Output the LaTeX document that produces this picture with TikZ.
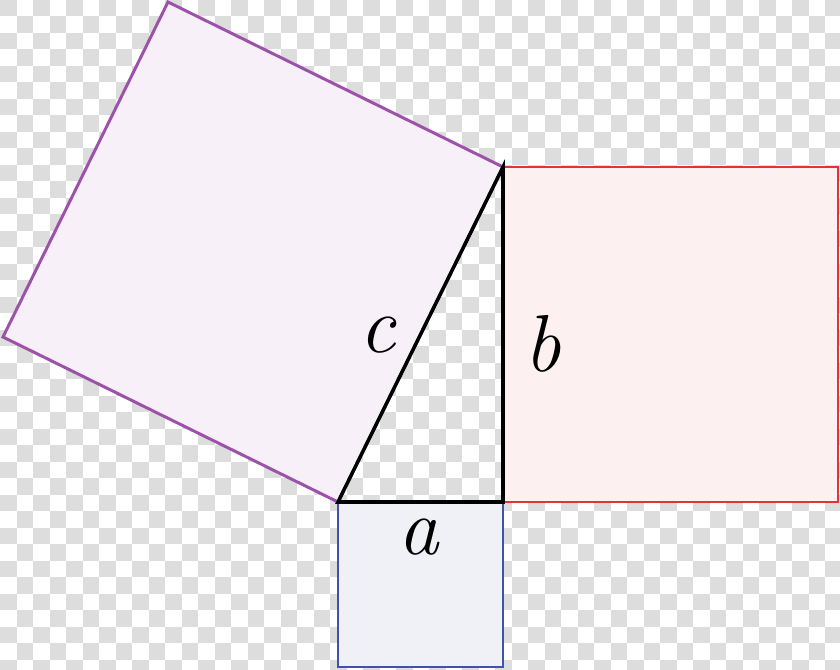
\documentclass[tikz,border=0pt]{standalone}
\usepackage{tikz}
\usepackage{amsmath}
\usetikzlibrary{calc}
\usepackage{color}
\definecolor{Check-1}{RGB}{221,221,221}
\definecolor{Sq-a}{RGB}{62,84,172}
\definecolor{Sq-a-fill}{RGB}{240,241,247}
\definecolor{Sq-b}{RGB}{226,52,52}
\definecolor{Sq-b-fill}{RGB}{253,240,240}
\definecolor{Sq-c}{RGB}{157,82,170}
\definecolor{Sq-c-fill}{RGB}{248,240,248}

\begin{document}
\begin{tikzpicture}[x=0.02cm, y=0.02cm]
      \useasboundingbox (0,0) rectangle (840,670);
      \clip (0,0) rectangle (840,670);

      % transparency checkerboard
      \foreach \r in {0,...,40} {
        \foreach \c in {0,...,50} {
          \pgfmathparse{int(mod(\r+\c,2))}
          \ifnum\pgfmathresult=0
            \fill[Check-1] ({\c*16.5}, {670-(\r+1)*16.5}) rectangle ({(\c+1)*16.5}, {670-\r*16.5});
          \fi
        }
      }

      \coordinate (A) at (338,168);
      \coordinate (B) at (503,168);
      \coordinate (C) at (503,503);

      \filldraw[draw=Sq-a, fill=Sq-a-fill, line width=1.7pt] (A) -- (B) -- ($(B)+(0,-165)$) -- ($(A)+(0,-165)$) -- cycle;
      \filldraw[draw=Sq-b, fill=Sq-b-fill, line width=1.7pt] (B) -- ($(B)+(335,0)$) -- ($(C)+(335,0)$) -- (C) -- cycle;
      \filldraw[draw=Sq-c, fill=Sq-c-fill, line width=1.7pt] (A) -- (C) -- ($(C)+(-335,165)$) -- ($(A)+(-335,165)$) -- cycle;

      \draw[line width=2pt, line join=miter] (A) -- (B) -- (C) -- cycle;

      \node[anchor=base, inner sep=0pt, font=\fontsize{46}{50}\selectfont\itshape] (lbla) at (419,115) {a};
      \node[anchor=base, inner sep=0pt, font=\fontsize{46}{50}\selectfont\itshape] (lblb) at (543,298) {b};
      \node[anchor=base, inner sep=0pt, font=\fontsize{46}{50}\selectfont\itshape] (lblc) at (378,317) {c};
    \end{tikzpicture}
\end{document}
